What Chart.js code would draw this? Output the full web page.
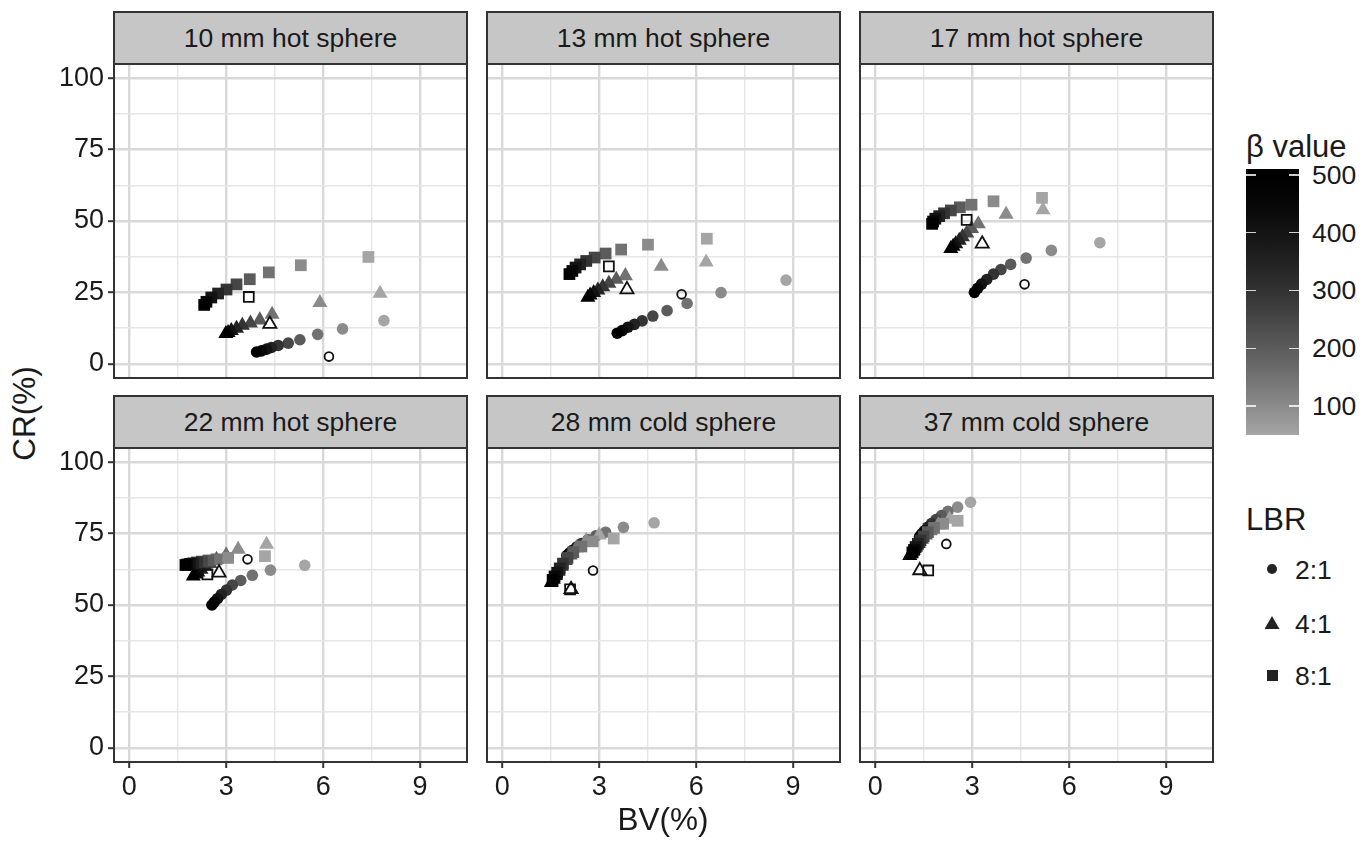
<!DOCTYPE html>
<html><head><meta charset="utf-8">
<script src="https://cdn.jsdelivr.net/npm/chart.js@4/dist/chart.umd.min.js"></script>
<style>
html,body{margin:0;padding:0;background:#fff;}
#wrap{position:relative;width:1372px;height:842px;overflow:hidden;font-family:'Liberation Sans',Arial,Helvetica,sans-serif;color:#1a1a1a;}
.strip{position:absolute;background:#c6c6c6;border:2px solid #333;box-sizing:border-box;font-size:26.5px;display:flex;align-items:center;justify-content:center;color:#1a1a1a;}
canvas{position:absolute;}
.txt{position:absolute;white-space:nowrap;}
</style>
</head><body>
<div id="wrap"></div>
<script>
// ---------------- data ----------------
const BETA = [50, 100, 150, 200, 250, 300, 350, 400, 450, 500];
const PANEL_TITLES = ["10 mm hot sphere", "13 mm hot sphere", "17 mm hot sphere",
                      "22 mm hot sphere", "28 mm cold sphere", "37 mm cold sphere"];
const LBR_LABELS = ["2:1", "4:1", "8:1"];
const X_MAJOR = [0, 3, 6, 9];
const X_GRID = [0, 1.5, 3, 4.5, 6, 7.5, 9];
const Y_MAJOR = [0, 25, 50, 75, 100];
const Y_GRID = [0, 12.5, 25, 37.5, 50, 62.5, 75, 87.5, 100];
const COLORBAR_TICKS = [100, 200, 300, 400, 500];
const X_TITLE = "BV(%)";
const Y_TITLE = "CR(%)";
const COLOR_TITLE = "β value";
const SHAPE_TITLE = "LBR";

// 10 mm hot sphere
const BV_10_LBR2 = [7.88, 6.60, 5.83, 5.28, 4.92, 4.61, 4.40, 4.25, 4.09, 3.94];
const CR_10_LBR2 = [15.1, 12.2, 10.3, 8.4, 7.2, 6.4, 5.7, 5.1, 4.5, 4.1];
const BV_10_LBR4 = [7.76, 5.90, 4.42, 4.04, 3.75, 3.50, 3.32, 3.16, 3.06, 2.99];
const CR_10_LBR4 = [24.6, 21.4, 17.3, 15.3, 14.2, 13.4, 12.4, 11.6, 10.9, 10.5];
const BV_10_LBR8 = [7.40, 5.31, 4.32, 3.73, 3.32, 3.01, 2.75, 2.54, 2.39, 2.32];
const CR_10_LBR8 = [37.4, 34.5, 32.0, 29.6, 27.8, 26.0, 24.6, 23.2, 21.7, 20.6];
const OSEM_BV_10 = [6.18, 4.35, 3.70];
const OSEM_CR_10 = [2.5, 13.9, 23.4];

// 13 mm hot sphere
const BV_13_LBR2 = [8.78, 6.77, 5.72, 5.10, 4.66, 4.33, 4.09, 3.89, 3.71, 3.56];
const CR_13_LBR2 = [29.3, 24.9, 21.1, 18.6, 16.7, 15.0, 13.8, 12.8, 11.6, 10.7];
const BV_13_LBR4 = [6.31, 4.92, 3.81, 3.53, 3.30, 3.11, 2.96, 2.83, 2.72, 2.65];
const CR_13_LBR4 = [35.6, 34.1, 30.8, 29.5, 28.1, 26.9, 25.8, 24.9, 24.0, 23.2];
const BV_13_LBR8 = [6.33, 4.51, 3.68, 3.20, 2.86, 2.60, 2.41, 2.27, 2.17, 2.08];
const CR_13_LBR8 = [43.8, 41.7, 40.0, 38.6, 37.2, 36.0, 34.8, 33.7, 32.5, 31.4];
const OSEM_BV_13 = [5.55, 3.86, 3.30];
const OSEM_CR_13 = [24.3, 26.0, 34.1];

// 17 mm hot sphere
const BV_17_LBR2 = [6.95, 5.45, 4.67, 4.19, 3.89, 3.66, 3.45, 3.29, 3.17, 3.07];
const CR_17_LBR2 = [42.4, 39.7, 37.0, 34.8, 33.0, 31.4, 29.5, 27.9, 26.4, 25.0];
const BV_17_LBR4 = [5.19, 4.05, 3.19, 2.98, 2.83, 2.70, 2.60, 2.49, 2.41, 2.34];
const CR_17_LBR4 = [53.9, 52.3, 49.0, 47.3, 45.7, 44.4, 43.2, 42.0, 41.1, 40.3];
const BV_17_LBR8 = [5.16, 3.66, 2.98, 2.62, 2.34, 2.13, 1.98, 1.86, 1.79, 1.76];
const CR_17_LBR8 = [58.1, 56.9, 55.7, 54.8, 53.7, 52.7, 51.7, 50.8, 49.8, 49.0];
const OSEM_BV_17 = [4.62, 3.31, 2.83];
const OSEM_CR_17 = [27.8, 42.0, 50.4];

// 22 mm hot sphere
const BV_22_LBR2 = [5.43, 4.37, 3.81, 3.45, 3.19, 3.01, 2.85, 2.73, 2.63, 2.56];
const CR_22_LBR2 = [63.9, 62.2, 60.4, 58.6, 57.0, 55.2, 53.7, 52.2, 51.0, 50.0];
const BV_22_LBR4 = [4.25, 3.37, 3.00, 2.70, 2.50, 2.35, 2.22, 2.12, 2.05, 1.98];
const CR_22_LBR4 = [71.2, 69.5, 67.5, 66.0, 64.5, 63.5, 62.5, 61.5, 60.8, 60.1];
const BV_22_LBR8 = [4.20, 3.06, 2.70, 2.45, 2.25, 2.10, 1.98, 1.88, 1.80, 1.74];
const CR_22_LBR8 = [67.1, 66.5, 66.0, 65.6, 65.2, 64.9, 64.6, 64.4, 64.2, 64.0];
const OSEM_BV_22 = [3.66, 2.78, 2.42];
const OSEM_CR_22 = [66.0, 61.3, 60.7];

// 28 mm cold sphere
const BV_28_LBR2 = [4.70, 3.75, 3.20, 2.90, 2.65, 2.45, 2.30, 2.18, 2.08, 2.00];
const CR_28_LBR2 = [78.8, 77.2, 75.5, 74.2, 72.8, 71.5, 70.3, 69.2, 68.2, 67.3];
const BV_28_LBR4 = [3.00, 2.60, 2.30, 2.10, 1.95, 1.83, 1.73, 1.65, 1.58, 1.52];
const CR_28_LBR4 = [74.5, 72.5, 70.0, 67.5, 65.5, 63.5, 61.8, 60.3, 59.0, 57.8];
const BV_28_LBR8 = [3.45, 2.80, 2.45, 2.20, 2.02, 1.88, 1.78, 1.70, 1.62, 1.56];
const CR_28_LBR8 = [73.3, 72.3, 70.5, 68.5, 66.5, 64.5, 62.8, 61.3, 60.0, 58.8];
const OSEM_BV_28 = [2.81, 2.13, 2.10];
const OSEM_CR_28 = [62.1, 55.5, 55.5];

// 37 mm cold sphere
const BV_37_LBR2 = [2.95, 2.55, 2.25, 2.05, 1.88, 1.74, 1.62, 1.52, 1.44, 1.37];
const CR_37_LBR2 = [86.0, 84.3, 82.8, 81.3, 79.9, 78.5, 77.2, 76.0, 74.9, 73.9];
const BV_37_LBR4 = [2.30, 1.95, 1.70, 1.55, 1.43, 1.33, 1.25, 1.18, 1.12, 1.07];
const CR_37_LBR4 = [80.0, 78.0, 76.0, 74.5, 73.0, 71.5, 70.3, 69.2, 68.2, 67.3];
const BV_37_LBR8 = [2.55, 2.10, 1.82, 1.63, 1.50, 1.40, 1.32, 1.25, 1.20, 1.15];
const CR_37_LBR8 = [79.5, 78.5, 77.0, 75.5, 74.0, 72.6, 71.4, 70.3, 69.3, 68.4];
const OSEM_BV_37 = [2.20, 1.38, 1.64];
const OSEM_CR_37 = [71.4, 62.1, 62.1];

// ---------------- build ----------------
const PANELS = [
  {bv: [BV_10_LBR2, BV_10_LBR4, BV_10_LBR8], cr: [CR_10_LBR2, CR_10_LBR4, CR_10_LBR8], obv: OSEM_BV_10, ocr: OSEM_CR_10},
  {bv: [BV_13_LBR2, BV_13_LBR4, BV_13_LBR8], cr: [CR_13_LBR2, CR_13_LBR4, CR_13_LBR8], obv: OSEM_BV_13, ocr: OSEM_CR_13},
  {bv: [BV_17_LBR2, BV_17_LBR4, BV_17_LBR8], cr: [CR_17_LBR2, CR_17_LBR4, CR_17_LBR8], obv: OSEM_BV_17, ocr: OSEM_CR_17},
  {bv: [BV_22_LBR2, BV_22_LBR4, BV_22_LBR8], cr: [CR_22_LBR2, CR_22_LBR4, CR_22_LBR8], obv: OSEM_BV_22, ocr: OSEM_CR_22},
  {bv: [BV_28_LBR2, BV_28_LBR4, BV_28_LBR8], cr: [CR_28_LBR2, CR_28_LBR4, CR_28_LBR8], obv: OSEM_BV_28, ocr: OSEM_CR_28},
  {bv: [BV_37_LBR2, BV_37_LBR4, BV_37_LBR8], cr: [CR_37_LBR2, CR_37_LBR4, CR_37_LBR8], obv: OSEM_BV_37, ocr: OSEM_CR_37}
];

const FONT = "'Liberation Sans', Arial, Helvetica, sans-serif";
const BETA_LO = 50, BETA_HI = 510;
function gray(b) {
  const t = Math.max(0, Math.min(1, (BETA_HI - b) / (BETA_HI - BETA_LO)));
  const g = Math.round(165 * Math.pow(t, 1.5));
  return 'rgb(' + g + ',' + g + ',' + g + ')';
}

const wrap = document.getElementById('wrap');
const COL_LEFT = [114, 487, 860], ROW_TOP = [64, 448], STRIP_H = 53;
const PW = 353, PH = 314, ML = 70, MB = 50, MT = 10, MR = 10;

const panelBorder = {
  id: 'panelBorder',
  afterDatasetsDraw(chart) {
    const a = chart.chartArea, ctx = chart.ctx;
    ctx.save();
    ctx.strokeStyle = '#333';
    ctx.lineWidth = 2;
    ctx.strokeRect(a.left, a.top, a.right - a.left, a.bottom - a.top);
    ctx.restore();
  }
};

function el(cls, text, css) {
  const d = document.createElement('div');
  d.className = cls;
  if (text !== null) d.textContent = text;
  Object.assign(d.style, css);
  wrap.appendChild(d);
  return d;
}

const SHAPES = ['circle', 'triangle', 'rect'];
const FILL_R = [5.8, 8.7, 8.3];
const HOLLOW_R = [4.4, 7.6, 7.0];

PANELS.forEach((p, k) => {
  const col = k % 3, row = Math.floor(k / 3);
  const showY = col === 0, showX = row === 1;
  el('strip', PANEL_TITLES[k], {
    left: (COL_LEFT[col] - 1) + 'px', top: (ROW_TOP[row] - STRIP_H) + 'px',
    width: (PW + 2) + 'px', height: (STRIP_H + 1) + 'px'
  });
  const cv = document.createElement('canvas');
  cv.width = ML + PW + MR; cv.height = MT + PH + MB;
  cv.style.left = (COL_LEFT[col] - ML) + 'px';
  cv.style.top = (ROW_TOP[row] - MT) + 'px';
  wrap.appendChild(cv);

  const datasets = [];
  SHAPES.forEach((s, i) => {
    datasets.push({
      data: p.bv[i].map((x, j) => ({x: x, y: p.cr[i][j]})),
      pointStyle: s, pointRadius: FILL_R[i],
      pointBackgroundColor: BETA.map(gray),
      pointBorderColor: 'rgba(0,0,0,0)', pointBorderWidth: 0,
      showLine: false, order: 3 - i
    });
  });
  SHAPES.forEach((s, i) => {
    datasets.push({
      data: [{x: p.obv[i], y: p.ocr[i]}],
      pointStyle: s, pointRadius: HOLLOW_R[i],
      pointBackgroundColor: 'rgba(0,0,0,0)',
      pointBorderColor: '#111', pointBorderWidth: 1.8,
      showLine: false, order: 0
    });
  });

  const isMajor = (c, majors) => c.tick && majors.includes(c.tick.value);
  const gridOpts = (majors, showTicks) => ({
    color: c => isMajor(c, majors) ? '#d9d9d9' : '#e6e6e6',
    lineWidth: c => isMajor(c, majors) ? 2.4 : 1.4,
    drawTicks: showTicks, tickLength: 6, tickWidth: 2,
    tickColor: c => isMajor(c, majors) ? '#333' : 'rgba(0,0,0,0)'
  });

  new Chart(cv, {
    type: 'scatter',
    data: {datasets: datasets},
    plugins: [panelBorder],
    options: {
      responsive: false, animation: false, devicePixelRatio: 1, events: [],
      layout: {padding: {top: MT, right: MR, left: 0, bottom: 0}},
      plugins: {legend: {display: false}, tooltip: {enabled: false}},
      scales: {
        x: {
          type: 'linear', min: -0.47, max: 10.45,
          afterBuildTicks: s => { s.ticks = X_GRID.map(v => ({value: v})); },
          afterFit: s => { s.height = MB; s.paddingLeft = 0; s.paddingRight = 0; },
          ticks: {display: showX, autoSkip: false, maxRotation: 0, padding: 3, color: '#1a1a1a',
                  font: {family: FONT, size: 27},
                  callback: v => X_MAJOR.includes(v) ? String(v) : ''},
          grid: gridOpts(X_MAJOR, showX),
          border: {display: false}
        },
        y: {
          type: 'linear', min: -5, max: 105,
          afterBuildTicks: s => { s.ticks = Y_GRID.map(v => ({value: v})); },
          afterFit: s => { s.width = ML; s.paddingTop = 0; s.paddingBottom = 0; },
          ticks: {display: showY, autoSkip: false, padding: 4, color: '#1a1a1a',
                  font: {family: FONT, size: 27},
                  callback: v => Y_MAJOR.includes(v) ? String(v) : ''},
          grid: gridOpts(Y_MAJOR, showY),
          border: {display: false}
        }
      }
    }
  });
});

// axis titles
el('txt', X_TITLE, {left: '563px', width: '200px', textAlign: 'center', top: '804px', fontSize: '31.5px', lineHeight: '31px'});
el('txt', Y_TITLE, {left: '-76px', width: '200px', textAlign: 'center', top: '398px', fontSize: '31.5px', lineHeight: '31px', transform: 'rotate(-90deg)'});

// colour legend
const CB_LEFT = 1246, CB_TOP = 169, CB_W = 53, CB_H = 266;
const cbY = v => CB_TOP + (BETA_HI - v) / (BETA_HI - BETA_LO) * CB_H;
el('txt', COLOR_TITLE, {left: CB_LEFT + 'px', top: '131px', fontSize: '31px', lineHeight: '31px'});
const stops = [];
for (let i = 0; i <= 24; i++) {
  const v = BETA_HI - (BETA_HI - BETA_LO) * i / 24;
  stops.push(gray(v) + ' ' + (i / 24 * 100).toFixed(2) + '%');
}
el('txt', null, {left: CB_LEFT + 'px', top: CB_TOP + 'px', width: CB_W + 'px', height: CB_H + 'px',
                 background: 'linear-gradient(to bottom,' + stops.join(',') + ')'});
COLORBAR_TICKS.forEach(v => {
  const y = cbY(v);
  el('txt', null, {left: CB_LEFT + 'px', top: (y - 0.75) + 'px', width: '10px', height: '1.5px', background: 'rgba(255,255,255,0.8)'});
  el('txt', null, {left: (CB_LEFT + CB_W - 10) + 'px', top: (y - 0.75) + 'px', width: '10px', height: '1.5px', background: 'rgba(255,255,255,0.8)'});
  el('txt', String(v), {left: '1312px', top: (y - 13) + 'px', fontSize: '26.5px', lineHeight: '26px'});
});

// shape legend
el('txt', SHAPE_TITLE, {left: '1246px', top: '504px', fontSize: '31px', lineHeight: '31px'});
const KEY_Y = [569, 623, 675];
KEY_Y.forEach((y, i) => {
  if (i === 0) el('txt', null, {left: (1272 - 5.3) + 'px', top: (y - 5.3) + 'px', width: '10.6px', height: '10.6px', borderRadius: '50%', background: '#222'});
  if (i === 1) el('txt', null, {left: (1272 - 7.5) + 'px', top: (y - 7) + 'px', width: '15px', height: '13px', background: '#222', clipPath: 'polygon(50% 0, 100% 100%, 0 100%)'});
  if (i === 2) el('txt', null, {left: (1272 - 5.5) + 'px', top: (y - 5.5) + 'px', width: '11px', height: '11px', background: '#222'});
  el('txt', LBR_LABELS[i], {left: '1295px', top: (y - 12) + 'px', fontSize: '26.5px', lineHeight: '26px'});
});
</script>
</body></html>
